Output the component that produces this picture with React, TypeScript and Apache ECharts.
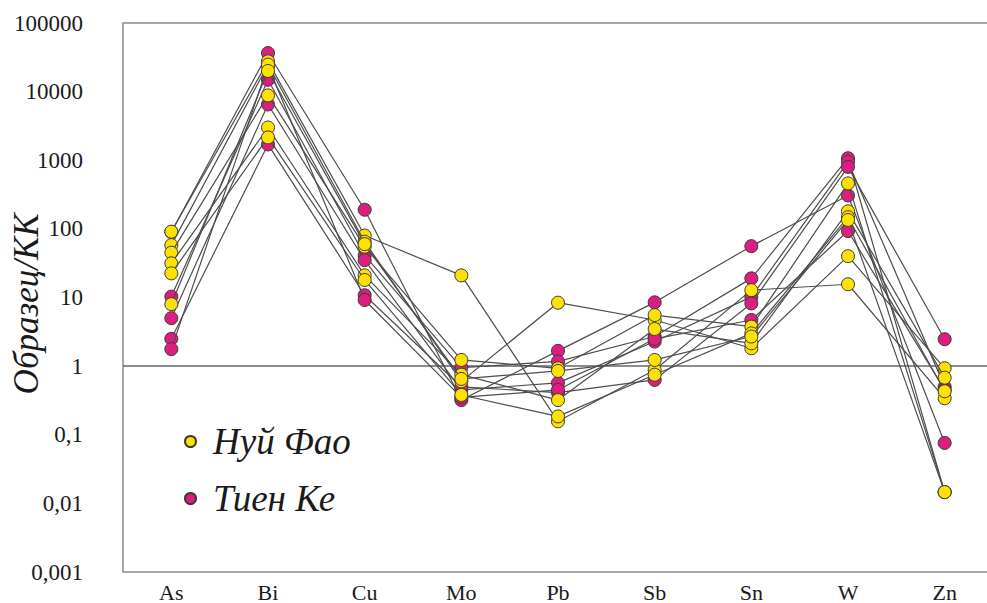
import React, { useEffect, useRef } from "react";
import * as echarts from "echarts";

const categories = ["As", "Bi", "Cu", "Mo", "Pb", "Sb", "Sn", "W", "Zn"];

// Нуй Фао samples (yellow)
const nuiPhao1 = [91, 27600, 80, 21, 0.157, 0.88, 12.8, 15.6, 0.34];
const nuiPhao2 = [58, 24700, 65, 0.6, 8.4, 4.7, 1.82, 40, 0.93];
const nuiPhao3 = [45, 8800, 55, 1.23, 0.93, 5.55, 3.76, 460, 0.0146];
const nuiPhao4 = [31.5, 3000, 21, 0.75, 0.32, 3.47, 2.15, 180, 0.68];
const nuiPhao5 = [22.5, 2150, 18, 0.38, 0.185, 0.75, 3.0, 148, 0.43];
const nuiPhao6 = [8, 20000, 60, 0.65, 0.85, 1.23, 2.7, 135, 0.0146];

// Тиен Ке samples (magenta)
const tienKe1 = [90, 36500, 190, 0.32, 1.67, 8.5, 56, 307, 0.076];
const tienKe2 = [10.3, 14900, 41, 0.95, 1.17, 2.7, 19, 1070, 0.0146];
const tienKe3 = [5, 6500, 35, 0.45, 0.57, 2.28, 10.2, 950, 0.5];
const tienKe4 = [2.5, 1700, 10.8, 0.5, 0.41, 0.63, 8.2, 800, 2.47];
const tienKe5 = [1.77, 24000, 9.2, 0.35, 0.45, 2.5, 4.7, 93, 0.45];

const nuiPhaoSamples = [nuiPhao1, nuiPhao2, nuiPhao3, nuiPhao4, nuiPhao5, nuiPhao6];
const tienKeSamples = [tienKe1, tienKe2, tienKe3, tienKe4, tienKe5];

const yTickLabels = ["0,001", "0,01", "0,1", "1", "10", "100", "1000", "10000", "100000"];

const NAME_NP = "Нуй Фао";
const NAME_TK = "Тиен Ке";
const Y_NAME = "Образец/КК";
const YELLOW = "#FFE100";
const MAGENTA = "#DC1E80";
const SERIF = "Times New Roman";

export default function App() {
  const ref = useRef<HTMLDivElement>(null);

  useEffect(() => {
    if (!ref.current) return;
    const chart = echarts.init(ref.current, undefined, { renderer: "svg" });

    const mkSeries = (name: string, color: string, data: number[], idx: number, withMark: boolean) => {
      const s: any = {
        type: "line",
        name,
        data,
        symbol: "circle",
        symbolSize: 13,
        showSymbol: true,
        lineStyle: { color: "#4d4d4d", width: 1.2 },
        itemStyle: { color, borderColor: "#3a3a3a", borderWidth: 1 },
        z: 2 + idx,
      };
      if (withMark) {
        s.markLine = {
          silent: true,
          symbol: "none",
          label: { show: false },
          lineStyle: { color: "#666", type: "solid", width: 1.5 },
          data: [{ yAxis: 1 }],
          z: 1,
        };
      }
      return s;
    };

    const series: any[] = [];
    tienKeSamples.forEach((d, i) => series.push(mkSeries(NAME_TK, MAGENTA, d, i, i === 0)));
    nuiPhaoSamples.forEach((d, i) => series.push(mkSeries(NAME_NP, YELLOW, d, 10 + i, false)));

    chart.setOption({
      animation: false,
      backgroundColor: "#fff",
      textStyle: { fontFamily: SERIF },
      grid: {
        show: true,
        left: 123,
        top: 23,
        width: 870,
        height: 549,
        containLabel: false,
        outerBoundsMode: "none",
        borderColor: "#8a8a8a",
        borderWidth: 1.5,
        backgroundColor: "transparent",
      },
      legend: {
        data: [NAME_NP, NAME_TK],
        orient: "vertical",
        left: 179,
        top: 418,
        icon: "circle",
        itemWidth: 11,
        itemHeight: 11,
        itemGap: 20,
        textStyle: {
          fontFamily: SERIF,
          fontStyle: "italic",
          fontSize: 37,
          color: "#1a1a1a",
          padding: [0, 0, 0, 12],
        },
      },
      graphic: [
        {
          type: "text",
          x: 26,
          y: 304,
          rotation: Math.PI / 2,
          style: {
            text: Y_NAME,
            font: "italic 35px 'Times New Roman'",
            fill: "#1a1a1a",
            align: "center",
            verticalAlign: "middle",
          },
        },
      ],
      xAxis: {
        type: "category",
        data: categories,
        boundaryGap: true,
        axisLine: { show: false },
        axisTick: { show: false },
        splitLine: { show: false },
        axisLabel: {
          fontFamily: SERIF,
          fontSize: 22,
          color: "#1a1a1a",
          margin: 9,
        },
      },
      yAxis: {
        type: "log",
        logBase: 10,
        min: 0.001,
        max: 100000,
        axisLine: { show: false },
        axisTick: { show: false },
        splitLine: { show: false },
        axisLabel: {
          fontFamily: SERIF,
          fontSize: 23,
          color: "#1a1a1a",
          margin: 40,
          formatter: (v: number) => {
            const i = Math.round(Math.log10(v)) + 3;
            return yTickLabels[i] ?? String(v);
          },
        },
      },
      series,
    });

    return () => chart.dispose();
  }, []);

  return (
    <div
      ref={ref}
      style={{ position: "absolute", left: 0, top: 0, width: 987, height: 603 }}
    />
  );
}
